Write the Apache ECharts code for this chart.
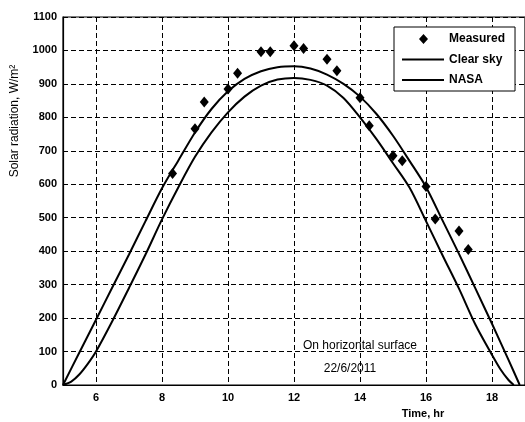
<!DOCTYPE html>
<html><head><meta charset="utf-8">
<script src="https://cdn.jsdelivr.net/npm/echarts@6/dist/echarts.min.js"></script>
<style>html,body{margin:0;padding:0;background:#fff}#c{width:525px;height:422px}</style>
</head><body><div id="c"></div>
<script>
// Measured points (time in hours, W/m2)
const measuredTime  = [8.32, 9.0, 9.28, 10.0, 10.29, 11.0, 11.28, 12.0, 12.29, 13.0, 13.3, 14.0, 14.28, 15.0, 15.28, 16.0, 16.28, 17.0, 17.28];
const measuredValue = [632, 766, 846, 885, 932, 996, 996, 1014, 1006, 974, 939, 859, 775, 685, 670, 593, 496, 460, 405];
// Clear sky model curve
const clearTime  = [5.0, 5.5, 6.0, 6.5, 7.0, 7.5, 8.0, 8.5, 9.0, 9.5, 10.0, 10.5, 11.0, 11.5, 12.0, 12.5, 13.0, 13.5, 14.0, 14.5, 15.0, 15.5, 16.0, 16.5, 17.0, 17.5, 18.0, 18.5, 18.84];
const clearValue = [0, 98, 195, 293, 390, 490, 588, 672, 755, 825, 878, 915, 938, 950, 953, 946, 928, 900, 862, 810, 745, 670, 592, 492, 392, 288, 183, 75, 0];
// NASA model curve
const nasaTime  = [5.0, 5.25, 5.5, 5.75, 6.0, 6.5, 7.0, 7.5, 8.0, 8.5, 9.0, 9.5, 10.0, 10.5, 11.0, 11.5, 12.0, 12.5, 13.0, 13.5, 14.0, 14.5, 15.0, 15.5, 16.0, 16.5, 17.0, 17.5, 18.0, 18.25, 18.5, 18.66];
const nasaValue = [0, 10, 32, 63, 100, 192, 290, 390, 495, 592, 682, 755, 815, 862, 895, 913, 918, 912, 895, 858, 800, 735, 663, 590, 490, 388, 288, 180, 90, 48, 15, 0];
// Axis ticks
const xTicks = [6, 8, 10, 12, 14, 16, 18];
const yTicks = [0, 100, 200, 300, 400, 500, 600, 700, 800, 900, 1000, 1100];
const seriesNames = ['Measured', 'Clear sky', 'NASA'];
const noteLines = ['On horizontal surface', '22/6/2011'];

const FONT = '"Liberation Sans", Arial, sans-serif';
const zip = (xs, ys) => xs.map((x, i) => [x, ys[i]]);
const dash = { color: '#000', type: [5, 3], width: 1 };
// legend icons: padded to the full 42x10 item box so nothing is stretched
const ICON_DIAMOND = 'path://M0,0L0.01,0M42,10L41.99,10M21.5,0L26,5L21.5,10L17,5Z';
const ICON_LINE = 'path://M0,0L0.01,0M42,10L41.99,10M0,4.1L42,4.1L42,5.9L0,5.9Z';

const chart = echarts.init(document.getElementById('c'), null, { renderer: 'canvas' });
chart.setOption({
  backgroundColor: '#fff',
  animation: false,
  grid: { left: 63, top: 17, right: -3, bottom: 37, show: true, borderColor: '#000', borderWidth: 1.2, backgroundColor: 'transparent' },
  xAxis: {
    type: 'value', min: 5, max: 19,
    axisLine: { show: true, lineStyle: { color: '#000', width: 1.2 } },
    axisTick: { show: false, customValues: xTicks },
    axisLabel: { customValues: xTicks, color: '#000', fontFamily: FONT, fontSize: 11, fontWeight: 'bold', margin: 7 },
    splitLine: { show: true, lineStyle: dash }
  },
  yAxis: {
    type: 'value', min: yTicks[0], max: yTicks[yTicks.length - 1], interval: 100,
    axisLine: { show: true, lineStyle: { color: '#000', width: 1.2 } },
    axisTick: { show: false },
    axisLabel: { color: '#000', fontFamily: FONT, fontSize: 11, fontWeight: 'bold', margin: 6, formatter: v => String(v) },
    splitLine: { show: true, lineStyle: dash }
  },
  legend: {
    orient: 'vertical', left: 394, top: 27,
    padding: [6, 10, 5, 8], itemWidth: 42, itemHeight: 10, itemGap: 8.5,
    backgroundColor: '#fff', borderColor: '#000', borderWidth: 1,
    textStyle: { color: '#000', fontFamily: FONT, fontSize: 12, fontWeight: 'bold' },
    data: [
      { name: seriesNames[0], icon: ICON_DIAMOND, itemStyle: { color: '#000', opacity: 1 } },
      { name: seriesNames[1], icon: ICON_LINE, itemStyle: { color: '#000', opacity: 1 } },
      { name: seriesNames[2], icon: ICON_LINE, itemStyle: { color: '#000', opacity: 1 } }
    ]
  },
  graphic: [
    { type: 'text', x: 15, y: 121, rotation: Math.PI / 2,
      style: { text: 'Solar radiation, W/m²', fill: '#000', font: '12px ' + FONT, textAlign: 'center', textVerticalAlign: 'middle' } },
    { type: 'text', x: 360, y: 346, style: { text: noteLines[0], fill: '#000', font: '12px ' + FONT, textAlign: 'center', textVerticalAlign: 'middle' } },
    { type: 'text', x: 350, y: 369, style: { text: noteLines[1], fill: '#000', font: '12px ' + FONT, textAlign: 'center', textVerticalAlign: 'middle' } },
    { type: 'text', x: 423, y: 414, style: { text: 'Time, hr', fill: '#000', font: 'bold 11px ' + FONT, textAlign: 'center', textVerticalAlign: 'middle' } }
  ],
  series: [
    { name: seriesNames[0], type: 'scatter', data: zip(measuredTime, measuredValue), symbol: 'diamond', symbolSize: [9, 11], itemStyle: { color: '#000', opacity: 1 }, z: 5 },
    { name: seriesNames[1], type: 'line', data: zip(clearTime, clearValue), symbol: 'none', smooth: 0.3, lineStyle: { color: '#000', width: 2 }, itemStyle: { color: '#000' } },
    { name: seriesNames[2], type: 'line', data: zip(nasaTime, nasaValue), symbol: 'none', smooth: 0.3, lineStyle: { color: '#000', width: 2 }, itemStyle: { color: '#000' } }
  ]
});
</script></body></html>
